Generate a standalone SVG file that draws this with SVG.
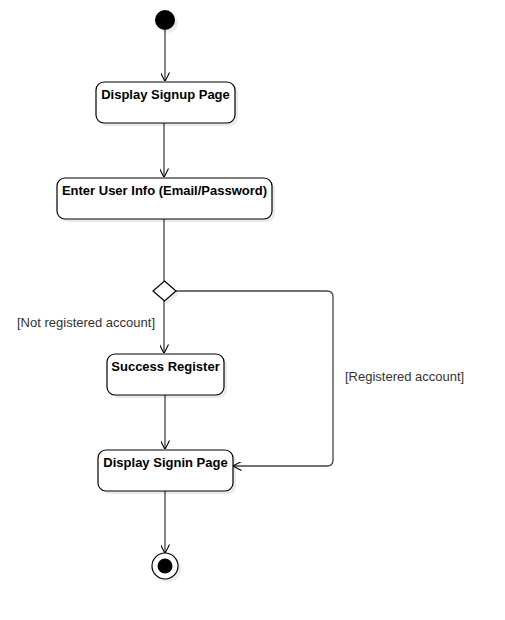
<svg xmlns="http://www.w3.org/2000/svg" width="505" height="620" viewBox="0 0 505 620">
<style>
.box{fill:#fff;stroke:#000;stroke-width:1.2}
.sh{fill:#000;opacity:0.08}
.lbl{font-family:"Liberation Sans",Arial,sans-serif;font-size:13px;font-weight:bold;fill:#000;text-anchor:middle}
.guard{font-family:"Liberation Sans",Arial,sans-serif;font-size:13px;fill:#333}
.edge{fill:none;stroke:#444;stroke-width:1.3}
</style>
<defs>
<marker id="open" viewBox="0 0 10 10" refX="9.5" refY="5" markerWidth="9" markerHeight="9" markerUnits="userSpaceOnUse" orient="auto">
<path d="M0,0 L10,5 L0,10" fill="none" stroke="#000" stroke-width="1.2"/>
</marker>
</defs>
<rect width="505" height="620" fill="#fff"/>
<g id="connectors">
<path class="edge" d="M165,30 V81" marker-end="url(#open)"/>
<path class="edge" d="M164,123 V177" marker-end="url(#open)"/>
<path class="edge" d="M164,219 V281"/>
<path class="edge" d="M164,301 V353" marker-end="url(#open)"/>
<path class="edge" d="M165,394 V449" marker-end="url(#open)"/>
<path class="edge" d="M165,491 V553" marker-end="url(#open)"/>
<path class="edge" d="M176,291 H327 Q333,291 333,297 V460 Q333,466 327,466 H233" marker-end="url(#open)"/>
<text class="guard" x="17" y="327">[Not registered account]</text>
<text class="guard" x="345" y="381">[Registered account]</text>
</g>
<g id="start">
<circle class="sh" cx="168" cy="23" r="10"/>
<circle cx="165" cy="20" r="10" fill="#000"/>
</g>
<g id="n1">
<rect class="sh" x="99" y="85" width="139" height="41" rx="8"/>
<rect class="box" x="96" y="82" width="139" height="41" rx="8"/>
<text class="lbl" x="165.5" y="99">Display Signup Page</text>
</g>
<g id="n2">
<rect class="sh" x="60" y="181" width="215" height="41" rx="8"/>
<rect class="box" x="57" y="178" width="215" height="41" rx="8"/>
<text class="lbl" x="164.5" y="195">Enter User Info (Email/Password)</text>
</g>
<g id="decision">
<path class="sh" d="M167,284 L179,294 L167,304 L155,294 Z"/>
<path d="M164.5,281 L176,291 L164.5,301 L153,291 Z" fill="#fff" stroke="#000" stroke-width="1.2"/>
</g>
<g id="n3">
<rect class="sh" x="110" y="357" width="117" height="41" rx="8"/>
<rect class="box" x="107" y="354" width="117" height="41" rx="8"/>
<text class="lbl" x="165.5" y="371">Success Register</text>
</g>
<g id="n4">
<rect class="sh" x="101" y="453" width="135" height="41" rx="8"/>
<rect class="box" x="98" y="450" width="135" height="41" rx="8"/>
<text class="lbl" x="165.5" y="467">Display Signin Page</text>
</g>
<g id="end">
<circle class="sh" cx="168" cy="569" r="13"/>
<circle cx="165" cy="566" r="13" fill="#fff" stroke="#000" stroke-width="1.2"/>
<circle cx="165" cy="566" r="7.5" fill="#000"/>
</g>
</svg>
